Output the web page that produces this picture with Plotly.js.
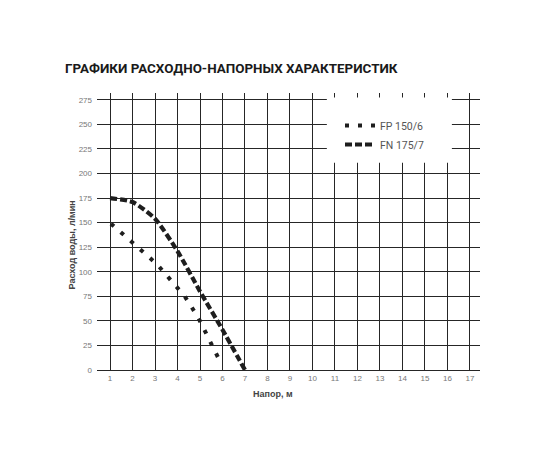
<!DOCTYPE html>
<html>
<head>
<meta charset="utf-8">
<script src="https://cdn.plot.ly/plotly-3.0.1.min.js"></script>
<style>
  html, body { margin: 0; padding: 0; background: #fff; }
  #chart { width: 550px; height: 450px; }
</style>
</head>
<body>
<div id="chart"></div>
<script>
// напор, м / расход, л/мин
var fpName = "FP 150/6";
var fpHead = [1.04, 1.49, 1.93, 2.36, 2.78, 3.19, 3.58, 3.96, 4.32, 4.63, 4.93, 5.19, 5.44, 5.70, 5.95];
var fpFlow = [149, 140, 132, 123, 114, 105, 95, 85, 75, 64, 53, 41, 29, 17, 6];

var fnName = "FN 175/7";
var fnHead = [1, 2, 3, 4, 5, 6, 7];
var fnFlow = [175, 171, 154, 121, 80, 41, 0];

var xTicks = [1, 2, 3, 4, 5, 6, 7, 8, 9, 10, 11, 12, 13, 14, 15, 16, 17];
var yTicks = [0, 25, 50, 75, 100, 125, 150, 175, 200, 225, 250, 275];

var gridColor = "#262626";
var tickFont = {family: "Liberation Sans, Arial, sans-serif", size: 8, color: "#777"};

var data = [
    {
        x: fpHead, y: fpFlow, name: fpName,
        type: "scatter", mode: "lines",
        line: {color: "#1e1e1e", width: 4, dash: "4px,9px"}
    },
    {
        x: fnHead, y: fnFlow, name: fnName,
        type: "scatter", mode: "lines",
        line: {color: "#1e1e1e", width: 4.2, dash: "7px,3px", shape: "spline", smoothing: 0.6}
    }
];

var layout = {
    width: 550, height: 450,
    margin: {l: 97, r: 70, t: 93, b: 80},
    paper_bgcolor: "#fff", plot_bgcolor: "#fff",
    title: {
        text: "<b>ГРАФИКИ РАСХОДНО-НАПОРНЫХ ХАРАКТЕРИСТИК</b>",
        font: {family: "Roboto, sans-serif", size: 13.4, color: "#1a1a1a"},
        xref: "container", yref: "container",
        x: 65 / 550, xanchor: "left",
        y: 1 - 68 / 450, yanchor: "middle"
    },
    xaxis: {
        range: [0.42, 17.45],
        tickvals: xTicks, ticktext: xTicks.map(String),
        ticks: "", tickfont: tickFont,
        showgrid: true, gridcolor: gridColor, gridwidth: 1,
        showline: true, linecolor: gridColor, linewidth: 1,
        zeroline: false, fixedrange: true
    },
    yaxis: {
        range: [0, 282],
        tickvals: yTicks, ticktext: yTicks.map(String),
        ticks: "", tickfont: tickFont, ticklabelstandoff: 4,
        showgrid: true, gridcolor: gridColor, gridwidth: 1,
        showline: false, zeroline: false, fixedrange: true
    },
    showlegend: true,
    legend: {
        x: (340 - 97) / 383, xref: "paper", xanchor: "left",
        y: 0.935, yanchor: "top",
        bgcolor: "rgba(0,0,0,0)",
        font: {family: "Roboto, sans-serif", size: 10.5, color: "#555"},
        itemwidth: 30, tracegroupgap: 0
    },
    // white box behind the legend that cuts the grid
    shapes: [{
        type: "rect", xref: "x", yref: "y", layer: "above",
        x0: 10.64, x1: 16.2, y0: 211, y1: 277.5,
        fillcolor: "#fff", line: {width: 0}
    }],
    annotations: [
        {
            text: "<b>Расход воды, л/мин</b>",
            xref: "paper", yref: "paper",
            x: -0.065, xanchor: "center",
            y: 0.45, yanchor: "middle",
            textangle: -90, showarrow: false,
            font: {family: "Liberation Sans, Arial, sans-serif", size: 9, color: "#444"}
        },
        {
            text: "<b>Напор, м</b>",
            xref: "paper", yref: "paper",
            x: (273 - 97) / 383, xanchor: "center",
            y: -0.06, yanchor: "top",
            showarrow: false,
            font: {family: "Liberation Sans, Arial, sans-serif", size: 9, color: "#444"}
        }
    ]
};

Plotly.newPlot("chart", data, layout, {displayModeBar: false, staticPlot: true});
</script>
</body>
</html>
